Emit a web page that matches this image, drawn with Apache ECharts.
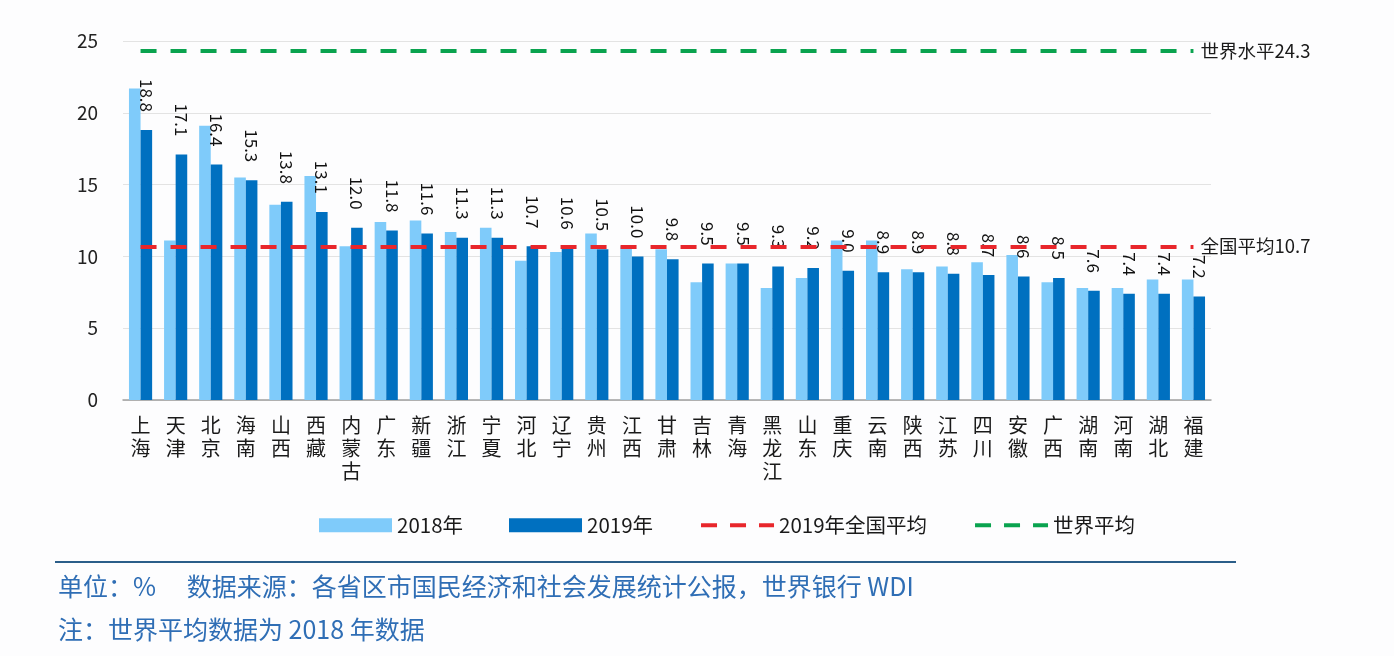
<!DOCTYPE html>
<html>
<head>
<meta charset="utf-8">
<script src="https://cdn.jsdelivr.net/npm/echarts@6/dist/echarts.min.js"></script>
<style>
html,body{margin:0;padding:0;background:#fdfdfe;}
#main{width:1394px;height:656px;}
</style>
</head>
<body>
<div id="main"></div>
<script>
const categories = ['上海','天津','北京','海南','山西','西藏','内蒙古','广东','新疆','浙江','宁夏','河北','辽宁','贵州','江西','甘肃','吉林','青海','黑龙江','山东','重庆','云南','陕西','江苏','四川','安徽','广西','湖南','河南','湖北','福建'];
const values2018 = [21.7,11.1,19.1,15.5,13.6,15.6,10.7,12.4,12.5,11.7,12.0,9.7,10.3,11.6,10.7,10.5,8.2,9.5,7.8,8.5,11.1,11.1,9.1,9.3,9.6,10.1,8.2,7.8,7.8,8.4,8.4];
const values2019 = [18.8,17.1,16.4,15.3,13.8,13.1,12.0,11.8,11.6,11.3,11.3,10.7,10.6,10.5,10.0,9.8,9.5,9.5,9.3,9.2,9.0,8.9,8.9,8.8,8.7,8.6,8.5,7.6,7.4,7.4,7.2];
const nationalAvg = 10.7;
const worldAvg = 24.3;
const yTicks = [0,5,10,15,20,25];
const seriesNames = ['2018年','2019年','2019年全国平均','世界平均'];
const noteLines = ['单位：%　 数据来源：各省区市国民经济和社会发展统计公报，世界银行 WDI','注：世界平均数据为 2018 年数据'];

const FONT = '"Noto Sans CJK SC", "Noto Sans", sans-serif';
const chart = echarts.init(document.getElementById('main'));

function refLine(value, label, color) {
  return {
    symbol: ['none','none'],
    silent: true,
    lineStyle: {color: color, width: 4, type: [16, 14]},
    label: {show: true, position: 'end', distance: 7, formatter: label, color: '#1a1a1a', fontSize: 18.5, fontFamily: FONT},
    data: [[{coord: [categories[0], value]}, {coord: [categories[categories.length-1], value]}]]
  };
}

chart.setOption({
  backgroundColor: '#fdfdfe',
  animation: false,
  textStyle: {fontFamily: FONT},
  grid: {left: 123, right: 183, top: 41, bottom: 256},
  legend: {
    data: [
      {name: seriesNames[0], icon: 'rect'},
      {name: seriesNames[1], icon: 'rect'},
      {name: seriesNames[2]},
      {name: seriesNames[3]}
    ],
    left: 314, top: 510,
    itemWidth: 73, itemHeight: 14, itemGap: 46,
    lineStyle: {width: 4},
    textStyle: {fontSize: 20.5, color: '#1a1a1a', fontFamily: FONT}
  },
  xAxis: {
    type: 'category',
    data: categories,
    axisLine: {lineStyle: {color: '#a0a0a0', width: 1.5}},
    axisTick: {show: false},
    axisLabel: {
      interval: 0, margin: 14, fontSize: 20, lineHeight: 23, color: '#1a1a1a',
      formatter: v => v.split('').join('\n')
    }
  },
  yAxis: {
    type: 'value', min: yTicks[0], max: yTicks[yTicks.length-1], interval: 5,
    axisLine: {show: false}, axisTick: {show: false},
    axisLabel: {fontSize: 19, color: '#222', margin: 25},
    splitLine: {lineStyle: {color: '#e3e3e3', width: 1}}
  },
  series: [
    {name: seriesNames[0], type: 'bar', data: values2018, barGap: '0%', barCategoryGap: '34%',
     itemStyle: {color: '#7fcbfa'}},
    {name: seriesNames[1], type: 'bar', data: values2019,
     itemStyle: {color: '#0070c0'},
     label: {show: true, position: 'top', rotate: -90, align: 'right', verticalAlign: 'middle', distance: 18,
             fontSize: 17, color: '#111', formatter: p => p.value.toFixed(1)}},
    {name: seriesNames[2], type: 'line', data: [], symbol: 'none',
     lineStyle: {color: '#e8262b', width: 4, type: [16, 13]}, itemStyle: {color: 'rgba(0,0,0,0)'},
     markLine: refLine(nationalAvg, '全国平均' + nationalAvg.toFixed(1), '#e8262b')},
    {name: seriesNames[3], type: 'line', data: [], symbol: 'none',
     lineStyle: {color: '#0aa34f', width: 4, type: [16, 13]}, itemStyle: {color: 'rgba(0,0,0,0)'},
     markLine: refLine(worldAvg, '世界水平' + worldAvg.toFixed(1), '#0aa34f')}
  ],
  graphic: [
    {type: 'line', shape: {x1: 55, y1: 562, x2: 1236, y2: 562}, style: {stroke: '#2b5e89', lineWidth: 2}},
    {type: 'text', left: 58, top: 574, style: {text: noteLines[0], fill: '#2f6eb5', fontSize: 25, fontFamily: FONT}},
    {type: 'text', left: 58, top: 617, style: {text: noteLines[1], fill: '#2f6eb5', fontSize: 25, fontFamily: FONT}}
  ]
});
</script>
</body>
</html>
